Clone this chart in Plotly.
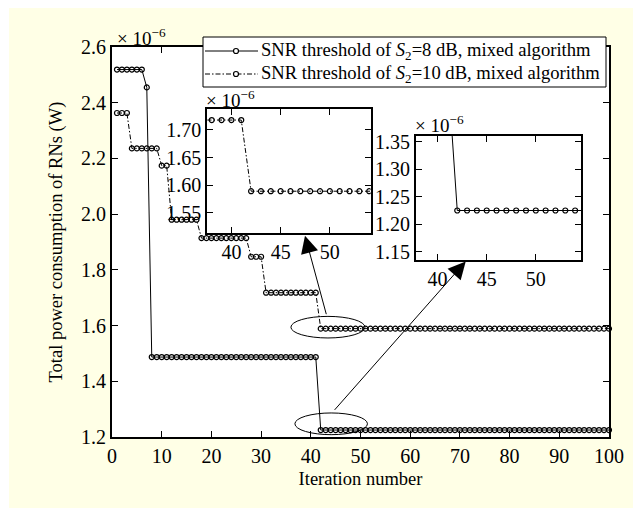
import plotly.graph_objects as go

# iteration index
iterations = list(range(1, 101))

# Total power (in units of 1e-6 W)
s8_levels = [2.519, 2.455, 1.487, 1.225]
s8_runs = [6, 1, 34, 59]
s10_levels = [2.363, 2.236, 2.174, 1.980, 1.914, 1.847, 1.718, 1.589]
s10_runs = [3, 6, 2, 6, 10, 3, 11, 59]

def expand(levels, runs):
    out = []
    for v, n in zip(levels, runs):
        out += [v] * n
    return out

power_8db = expand(s8_levels, s8_runs)
power_10db = expand(s10_levels, s10_runs)

x_ticks = [0, 10, 20, 30, 40, 50, 60, 70, 80, 90, 100]
y_ticks = [1.2, 1.4, 1.6, 1.8, 2.0, 2.2, 2.4, 2.6]
inset1_yticks = [1.55, 1.60, 1.65, 1.70]
inset2_yticks = [1.15, 1.20, 1.25, 1.30, 1.35]
inset_xticks = [40, 45, 50]

name_8 = "SNR threshold of <i>S</i><sub>2</sub>=8 dB, mixed algorithm"
name_10 = "SNR threshold of <i>S</i><sub>2</sub>=10 dB, mixed algorithm"

FONT = "Liberation Serif"
DASHDOT = "5px,2px,1.5px,2px"
W, H = 638, 508
L, R, T, B = 112, 29, 47, 71
pw, ph = W - L - R, H - T - B

def px(xp):
    return (xp - L) / pw

def py(yp):
    return (H - B - yp) / ph

mk = dict(symbol="circle-open", size=5, color="black", line=dict(width=1.2, color="black"))

fig = go.Figure()
fig.add_trace(go.Scatter(x=iterations, y=power_8db, mode="lines+markers", name=name_8,
                         line=dict(color="black", width=1, dash="solid"), marker=mk,
                         cliponaxis=False, showlegend=False, xaxis="x", yaxis="y"))
fig.add_trace(go.Scatter(x=iterations, y=power_10db, mode="lines+markers", name=name_10,
                         line=dict(color="black", width=1, dash=DASHDOT), marker=mk,
                         cliponaxis=False, showlegend=False, xaxis="x", yaxis="y"))
# inset 1 (10 dB)
fig.add_trace(go.Scatter(x=iterations, y=power_10db, mode="lines+markers", showlegend=False,
                         line=dict(color="black", width=1, dash=DASHDOT), marker=mk,
                         xaxis="x2", yaxis="y2"))
# inset 2 (8 dB)
fig.add_trace(go.Scatter(x=iterations, y=power_8db, mode="lines+markers", showlegend=False,
                         line=dict(color="black", width=1, dash="solid"), marker=mk,
                         xaxis="x3", yaxis="y3"))

ax_common = dict(showline=True, linecolor="black", linewidth=2, mirror="ticks",
                 ticks="inside", ticklen=6, tickwidth=1, tickcolor="black",
                 showgrid=False, zeroline=False,
                 tickfont=dict(family=FONT, size=20, color="black"))

fig.update_layout(
    width=W, height=H,
    margin=dict(l=L, r=R, t=T, b=B, pad=0),
    paper_bgcolor="#FFFFE6", plot_bgcolor="white",
    font=dict(family=FONT, size=18, color="black"),
    xaxis=dict(domain=[0, 1], range=[0, 100], tickvals=x_ticks,
               title=dict(text="Iteration number", standoff=6, font=dict(family=FONT, size=18.5)),
               **ax_common),
    yaxis=dict(domain=[0, 1], range=[1.2, 2.6], tickvals=y_ticks, tickformat=".1f",
               title=dict(text="Total power consumption of RNs (W)", standoff=14,
                          font=dict(family=FONT, size=18.5)),
               **ax_common),
    xaxis2=dict(domain=[px(207.3), px(370.7)], range=[37.55, 54.15], tickvals=inset_xticks,
                anchor="y2", **ax_common),
    yaxis2=dict(domain=[py(233.3), py(109.3)], range=[1.5127, 1.7375], tickvals=inset1_yticks,
                tickformat=".2f", anchor="x2", **ax_common),
    xaxis3=dict(domain=[px(416), px(581)], range=[37.8, 54.6], tickvals=inset_xticks,
                anchor="y3", **ax_common),
    yaxis3=dict(domain=[py(260), py(135.7)], range=[1.135, 1.361], tickvals=inset2_yticks,
                tickformat=".2f", anchor="x3", **ax_common),
    showlegend=False,
)

# legend box geometry (pixels)
LG_X0, LG_X1, LG_Y0, LG_Y1 = 203, 606, 37, 87
ROW_Y = [51, 74]
SAMPLE_X0, SAMPLE_X1, SAMPLE_MX = 205, 258, 236
legend_dashes = ["solid", DASHDOT]
legend_names = [name_8, name_10]

shapes = [
    # white strips around the yellow panel
    dict(type="rect", xref="paper", yref="paper", x0=px(0), x1=px(W), y0=py(8), y1=py(0),
         fillcolor="white", line=dict(width=0), layer="below"),
    dict(type="rect", xref="paper", yref="paper", x0=px(0), x1=px(9), y0=py(H), y1=py(0),
         fillcolor="white", line=dict(width=0), layer="below"),
    dict(type="rect", xref="paper", yref="paper", x0=px(633), x1=px(W), y0=py(H), y1=py(0),
         fillcolor="white", line=dict(width=0), layer="below"),
    # ellipses in the main plot
    dict(type="circle", xref="x", yref="y", x0=36.0, x1=50.9, y0=1.5555, y1=1.633,
         line=dict(color="black", width=1)),
    dict(type="circle", xref="x", yref="y", x0=36.8, x1=51.4, y0=1.2084, y1=1.2863,
         line=dict(color="black", width=1)),
    # legend box
    dict(type="rect", xref="paper", yref="paper", x0=px(LG_X0), x1=px(LG_X1),
         y0=py(LG_Y1), y1=py(LG_Y0), fillcolor="white", line=dict(color="black", width=1),
         layer="above"),
]
for ry, dsh in zip(ROW_Y, legend_dashes):
    shapes.append(dict(type="line", xref="paper", yref="paper", x0=px(SAMPLE_X0), x1=px(SAMPLE_X1),
                       y0=py(ry), y1=py(ry), line=dict(color="black", width=1, dash=dsh)))
    shapes.append(dict(type="circle", xref="paper", yref="paper",
                       x0=px(SAMPLE_MX - 2.5), x1=px(SAMPLE_MX + 2.5),
                       y0=py(ry + 2.5), y1=py(ry - 2.5),
                       fillcolor="white", line=dict(color="black", width=1.2)))
fig.update_layout(shapes=shapes)

exp_txt = "× 10<sup>−6</sup>"
annotations = [
    dict(xref="paper", yref="paper", x=px(115), y=py(36.5), xanchor="left", yanchor="middle",
         text=exp_txt, showarrow=False, font=dict(family=FONT, size=19)),
    dict(xref="paper", yref="paper", x=px(204), y=py(99), xanchor="left", yanchor="middle",
         text=exp_txt, showarrow=False, font=dict(family=FONT, size=19)),
    dict(xref="paper", yref="paper", x=px(413), y=py(124.5), xanchor="left", yanchor="middle",
         text=exp_txt, showarrow=False, font=dict(family=FONT, size=19)),
    dict(xref="x", yref="y", x=38.83, y=1.9227, axref="x", ayref="y", ax=43.2, ay=1.6355,
         text="", showarrow=True, arrowhead=2, arrowsize=3.5, arrowwidth=1, arrowcolor="black",
         standoff=0, startstandoff=0),
    dict(xref="x", yref="y", x=71.17, y=1.8304, axref="x", ayref="y", ax=44.53, ay=1.292,
         text="", showarrow=True, arrowhead=2, arrowsize=3.5, arrowwidth=1, arrowcolor="black",
         standoff=0, startstandoff=0),
]
for ry, nm in zip(ROW_Y, legend_names):
    annotations.append(dict(xref="paper", yref="paper", x=px(SAMPLE_X1 + 1), y=py(ry),
                            xanchor="left", yanchor="middle", text=nm, showarrow=False,
                            font=dict(family=FONT, size=18.6, color="black")))
fig.update_layout(annotations=annotations)

fig.write_html("out.html")
